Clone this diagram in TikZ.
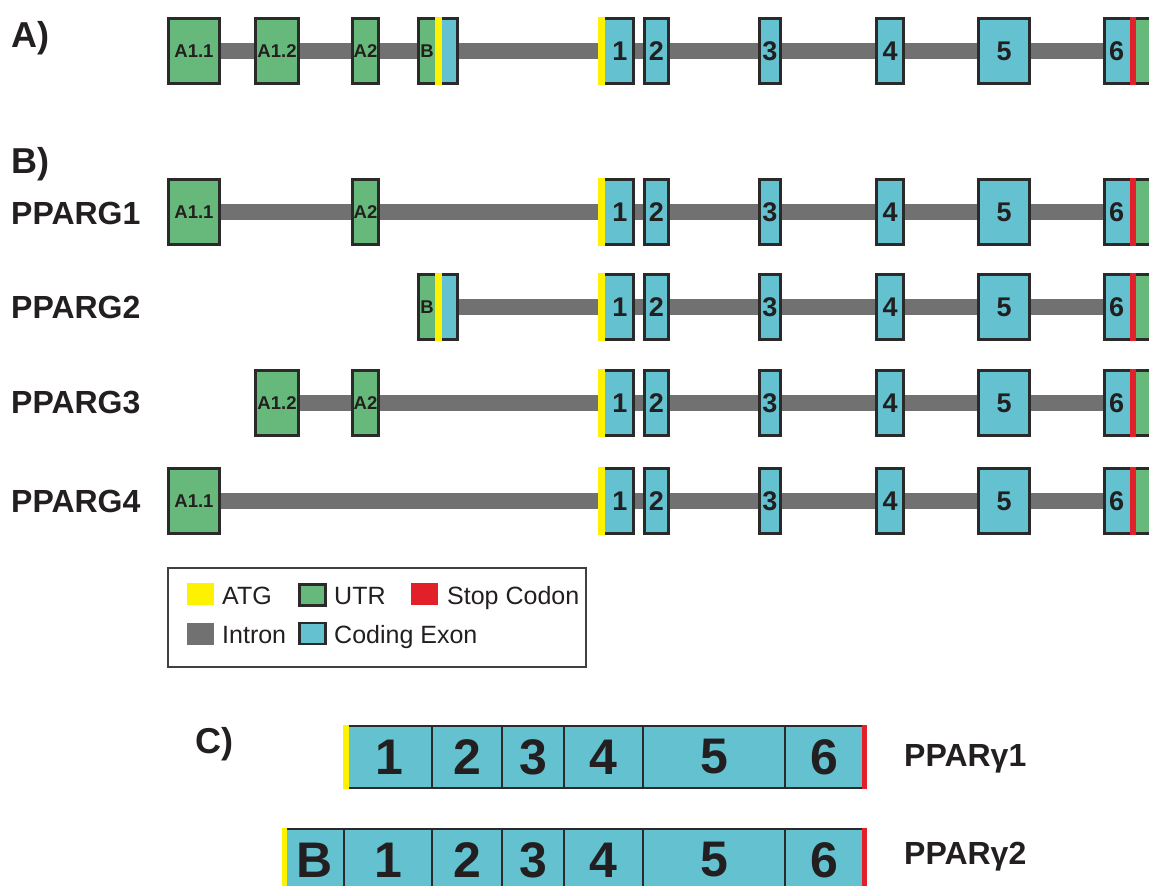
\documentclass[tikz,border=0pt]{standalone}
\usepackage{fontspec}
\setmainfont{Liberation Sans}
\definecolor{utr}{HTML}{66B97A}
\definecolor{cds}{HTML}{63C1D0}
\definecolor{intr}{HTML}{717171}
\definecolor{atg}{HTML}{FFF200}
\definecolor{stopc}{HTML}{E2202A}
\definecolor{outl}{HTML}{2A2A2A}
\definecolor{txt}{HTML}{231F20}
\definecolor{legframe}{HTML}{404040}
\pgfdeclarelayer{bg}\pgfdeclarelayer{fg}
\pgfsetlayers{bg,main,fg}
% exon node: name, x1, x2, y, style, label
\newcommand\exn[6]{\node[#5, minimum width={#3-#2-3}] (#1) at ({(#2+#3)/2},#4) {#6};}
% coding exons 1-6 of one row: prefix, y, first exon node
\newcommand\coreexons[3]{%
  \exn{#1e1}{598}{635}{#2}{cdsbox}{\hspace*{7pt}1}
  \exn{#1e2}{643}{670}{#2}{cdsbox}{2}
  \exn{#1e3}{758}{782}{#2}{cdsbox}{3}
  \exn{#1e4}{875}{905}{#2}{cdsbox}{4}
  \exn{#1e5}{977}{1031}{#2}{cdsbox}{5}
  \exn{#1e6}{1103}{1156}{#2}{cdsbox}{6\hspace*{26pt}}
  \begin{pgfonlayer}{fg}
    \fill[atg] (598,#2-34) rectangle (605,#2+34);
    \fill[stopc] (1130,#2-34) rectangle (1136,#2+34);
    \fill[utr] (1136,#2-31) rectangle (1152,#2+31);
  \end{pgfonlayer}
  \begin{pgfonlayer}{bg}
    \draw[intron] (#3.east) -- (#1e6.west);
  \end{pgfonlayer}
}
% exon B: prefix, y
\newcommand\exonB[2]{%
  \exn{#1B}{417}{459}{#2}{utrbox}{B\hspace*{22pt}}
  \begin{pgfonlayer}{fg}
    \fill[cds] (442,#2-31) rectangle (456,#2+31);
    \fill[atg] (435,#2-34) rectangle (442,#2+34);
  \end{pgfonlayer}
}
% protein cell: name, xleft, xright, y, label
\newcommand\pcell[5]{\node[pcellbox, minimum width={#3-#2}] (#1) at ({(#2+#3)/2},#4) {#5};}
\begin{document}
\begin{tikzpicture}[x=1pt,y=-1pt,
  exon/.style={draw=outl, line width=3pt, inner sep=0pt, minimum height=65pt, text=txt,
    font=\fontsize{27}{27}\selectfont\bfseries},
  cdsbox/.style={exon, fill=cds},
  utrbox/.style={exon, fill=utr, font=\fontsize{18.5}{18.5}\selectfont\bfseries},
  intron/.style={draw=intr, line width=16pt},
  lab/.style={anchor=west, text=txt, inner sep=0pt, font=\fontsize{32}{32}\selectfont\bfseries},
  panel/.style={anchor=base west, text=txt, inner sep=0pt, font=\fontsize{36}{36}\selectfont\bfseries},
  pcellbox/.style={draw=outl, line width=2.5pt, fill=cds, inner sep=0pt, minimum height=62pt,
    text=txt, font=\fontsize{50}{50}\selectfont\bfseries},
  swatch/.style={inner sep=0pt, minimum width=27pt, minimum height=22pt},
  legtext/.style={anchor=base west, inner sep=0pt, text=txt, font=\fontsize{25}{25}\selectfont},
]
\useasboundingbox (0,0) rectangle (1149,886);
\clip (0,0) rectangle (1149,886);

% ---------- panel A ----------
\node[panel] (pA) at (11,47) {A)};
\exn{aA11}{167}{221}{51}{utrbox}{A1.1}
\exn{aA12}{254}{300}{51}{utrbox}{A1.2}
\exn{aA2}{351}{380}{51}{utrbox}{A2}
\exonB{a}{51}
\coreexons{a}{51}{aA11}

% ---------- panel B ----------
\node[panel] (pB) at (11,173) {B)};
\node[lab] (l1) at (11,213) {PPARG1};
\node[lab] (l2) at (11,307) {PPARG2};
\node[lab] (l3) at (11,403) {PPARG3};
\node[lab] (l4) at (11,501) {PPARG4};

\exn{bA11}{167}{221}{212}{utrbox}{A1.1}
\exn{bA2}{351}{380}{212}{utrbox}{A2}
\coreexons{b}{212}{bA11}

\exonB{c}{307}
\coreexons{c}{307}{cB}

\exn{dA12}{254}{300}{403}{utrbox}{A1.2}
\exn{dA2}{351}{380}{403}{utrbox}{A2}
\coreexons{d}{403}{dA12}

\exn{eA11}{167}{221}{501}{utrbox}{A1.1}
\coreexons{e}{501}{eA11}

% ---------- legend ----------
\node[draw=legframe, line width=1.5pt, minimum width=418pt, minimum height=99pt, inner sep=0pt] (legend) at (377,617.5) {};
\node[swatch, fill=atg] (sw1) at (200.5,594) {};
\node[legtext] (t1) at (222,604) {ATG};
\node[swatch, fill=utr, draw=outl, line width=2.5pt, minimum width=26pt, minimum height=21pt] (sw2) at (312.5,595) {};
\node[legtext] (t2) at (334,604) {UTR};
\node[swatch, fill=stopc] (sw3) at (424.5,594) {};
\node[legtext] (t3) at (447,604) {Stop Codon};
\node[swatch, fill=intr] (sw4) at (200.5,633.5) {};
\node[legtext] (t4) at (222,643) {Intron};
\node[swatch, fill=cds, draw=outl, line width=2.5pt, minimum width=26pt, minimum height=21pt] (sw5) at (312.5,633.5) {};
\node[legtext] (t5) at (334,643) {Coding Exon};

% ---------- panel C ----------
\node[panel] (pC) at (195,753) {C)};
\pcell{p1c1}{346}{432}{757}{1}
\pcell{p1c2}{432}{502}{757}{2}
\pcell{p1c3}{502}{564}{757}{3}
\pcell{p1c4}{564}{643}{757}{4}
\pcell{p1c5}{643}{785}{757}{5}
\pcell{p1c6}{785}{864}{757}{6}
\pcell{p2cB}{284.5}{344}{860}{B}
\pcell{p2c1}{344}{432}{860}{1}
\pcell{p2c2}{432}{502}{860}{2}
\pcell{p2c3}{502}{564}{860}{3}
\pcell{p2c4}{564}{643}{860}{4}
\pcell{p2c5}{643}{785}{860}{5}
\pcell{p2c6}{785}{864}{860}{6}
\begin{pgfonlayer}{fg}
  \fill[atg] (343,724.75) rectangle (348.5,789.25);
  \fill[stopc] (861.5,724.75) rectangle (867,789.25);
  \fill[atg] (281.5,827.75) rectangle (287,892.25);
  \fill[stopc] (861.5,827.75) rectangle (867,892.25);
\end{pgfonlayer}
\node[lab, font=\fontsize{32}{32}\selectfont\bfseries] (g1) at (904,759) {PPARγ1};
\node[lab, font=\fontsize{32}{32}\selectfont\bfseries] (g2) at (904,857) {PPARγ2};
\end{tikzpicture}
\end{document}
